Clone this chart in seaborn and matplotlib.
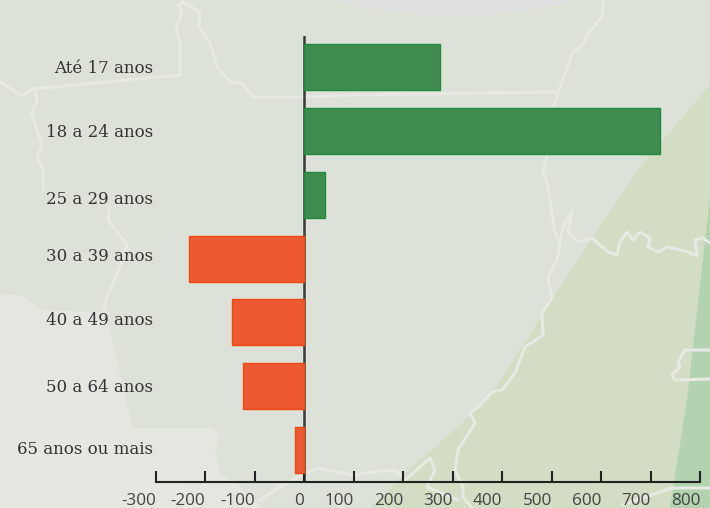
import matplotlib
matplotlib.use('Agg')
import matplotlib.pyplot as plt
from matplotlib.patches import Polygon, Ellipse
from matplotlib.transforms import ScaledTranslation
import pandas as pd
import seaborn as sns

# Chart values
faixas = ['Até 17 anos', '18 a 24 anos', '25 a 29 anos', '30 a 39 anos',
          '40 a 49 anos', '50 a 64 anos', '65 anos ou mais']
saldo = [275, 720, 42, -234, -147, -125, -18]
ticks_x = [-300, -200, -100, 0, 100, 200, 300, 400, 500, 600, 700, 800]

df = pd.DataFrame({'faixa': faixas, 'saldo': saldo})
df['sinal'] = ['pos' if v > 0 else 'neg' for v in saldo]

sns.set_theme(style='white')
plt.rcParams['font.family'] = ['DejaVu Serif']

fig = plt.figure(figsize=(7.10, 5.08), dpi=100, facecolor='#DCE2D8')

# Map drawn behind the chart, in pixel coordinates
bg = fig.add_axes([0, 0, 1, 1], zorder=0)
bg.set_xlim(0, 710)
bg.set_ylim(508, 0)
bg.axis('off')

light = [(0, 293), (23, 296), (43, 310), (103, 312), (112, 337), (120, 375), (133, 428),
         (213, 428), (220, 437), (215, 450), (220, 473), (253, 497), (263, 508), (0, 508)]
lighter = [(0, 343), (60, 343), (67, 367), (67, 410), (83, 427), (100, 463), (170, 462), (200, 508), (0, 508)]
green = [(710, 85), (638, 170), (592, 238), (552, 300), (488, 400), (398, 480), (370, 508), (710, 508)]
dark_green = [(710, 197), (687, 400), (670, 508), (710, 508)]
bg.add_patch(Polygon(light, fc='#E3E7DF', ec='none'))
bg.add_patch(Polygon(lighter, fc='#E4E8E1', ec='none'))
bg.add_patch(Polygon(green, fc='#D2DDC3', ec='none'))
bg.add_patch(Polygon(dark_green, fc='#B2D2B0', ec='none'))
bg.add_patch(Ellipse((455, -75), 440, 180, fc='#E0E0E0', ec='none'))

borders = [
    [(0, 82), (13, 90), (22, 96), (33, 89), (180, 75), (180, 43), (176, 28), (182, 13), (178, 5), (183, 2)],
    [(183, 2), (200, 12), (199, 27), (210, 43), (217, 67), (230, 82), (242, 83), (253, 97), (300, 97), (355, 95), (558, 92)],
    [(35, 90), (37, 103), (31, 113), (37, 130), (42, 145), (37, 157), (43, 170), (43, 190)],
    [(110, 207), (108, 220), (127, 245), (120, 267), (107, 297), (103, 312)],
    [(603, 0), (602, 17), (588, 33), (583, 45), (573, 52), (558, 93), (553, 108), (547, 157), (543, 170), (548, 187), (555, 233), (558, 238)],
    [(572, 212), (563, 227), (557, 260), (548, 277), (552, 298), (542, 313), (543, 335), (525, 347), (515, 373),
     (502, 390), (492, 392), (478, 407), (470, 413), (475, 423), (458, 450), (455, 470), (463, 487), (463, 497), (472, 508)],
    [(572, 212), (568, 233), (578, 242), (592, 238), (608, 252), (617, 255), (620, 242), (627, 232), (633, 240), (640, 232),
     (650, 238), (648, 247), (658, 252), (668, 247), (688, 252), (697, 256), (695, 240), (703, 238), (710, 243)],
    [(710, 350), (685, 350), (678, 362), (680, 367), (672, 375), (675, 380), (710, 379)],
    [(260, 500), (280, 487), (302, 475), (317, 468), (353, 475), (388, 470), (398, 472), (405, 480), (430, 458), (435, 470), (427, 487), (458, 500)],
    [(622, 505), (672, 488), (710, 488)],
]
for line in borders:
    xs, ys = zip(*line)
    bg.plot(xs, ys, color='#E6EAE3', lw=2.2, solid_joinstyle='round', solid_capstyle='round')
bg.plot([43, 63, 110], [190, 193, 207], color='#E6EAE3', lw=2.0, alpha=0.35)

# Chart axes: -300 sits at x=156 px and 800 at x=700 px
ax = fig.add_axes([156 / 710, (508 - 482) / 508, 544 / 710, 446 / 508], zorder=1)
ax.patch.set_alpha(0)
ax.axvline(0, color='#3A3A3A', lw=1.8, zorder=0)
sns.barplot(data=df, x='saldo', y='faixa', hue='sinal', order=faixas,
            palette={'pos': '#408C50', 'neg': '#EC5A33'}, dodge=False,
            width=0.72, legend=False, saturation=1, ax=ax, zorder=2)
for cont in ax.containers:
    for bar in cont:
        bar.set_edgecolor('#1E8A3C' if bar.get_width() > 0 else '#F04A10')
        bar.set_linewidth(1.0)

ax.set_xlim(-300, 800)
ax.set_ylim(6.5, -0.485)
ax.set_xlabel('')
ax.set_ylabel('')
sns.despine(ax=ax, left=True)
ax.spines['bottom'].set_color('#222222')
ax.spines['bottom'].set_linewidth(1.5)

ax.set_xticks(ticks_x)
ax.set_xticklabels([str(t) for t in ticks_x], family='Open Sans', fontsize=12.3, color='#444444', ha='right')
ax.tick_params(axis='x', direction='in', length=8, width=1.5, color='#222222', pad=8, bottom=True)
ax.tick_params(axis='y', length=0, pad=2)

# the category labels do not sit exactly on the bar centres
label_shift = [0, 0, 3, -4, -3.5, -0.5, -3]
for lab, dy in zip(ax.get_yticklabels(), label_shift):
    lab.set_fontsize(12)
    lab.set_color('#333333')
    lab.set_transform(lab.get_transform() + ScaledTranslation(0, -dy / 100, fig.dpi_scale_trans))

fig.savefig('out.png', dpi=100, facecolor=fig.get_facecolor())
